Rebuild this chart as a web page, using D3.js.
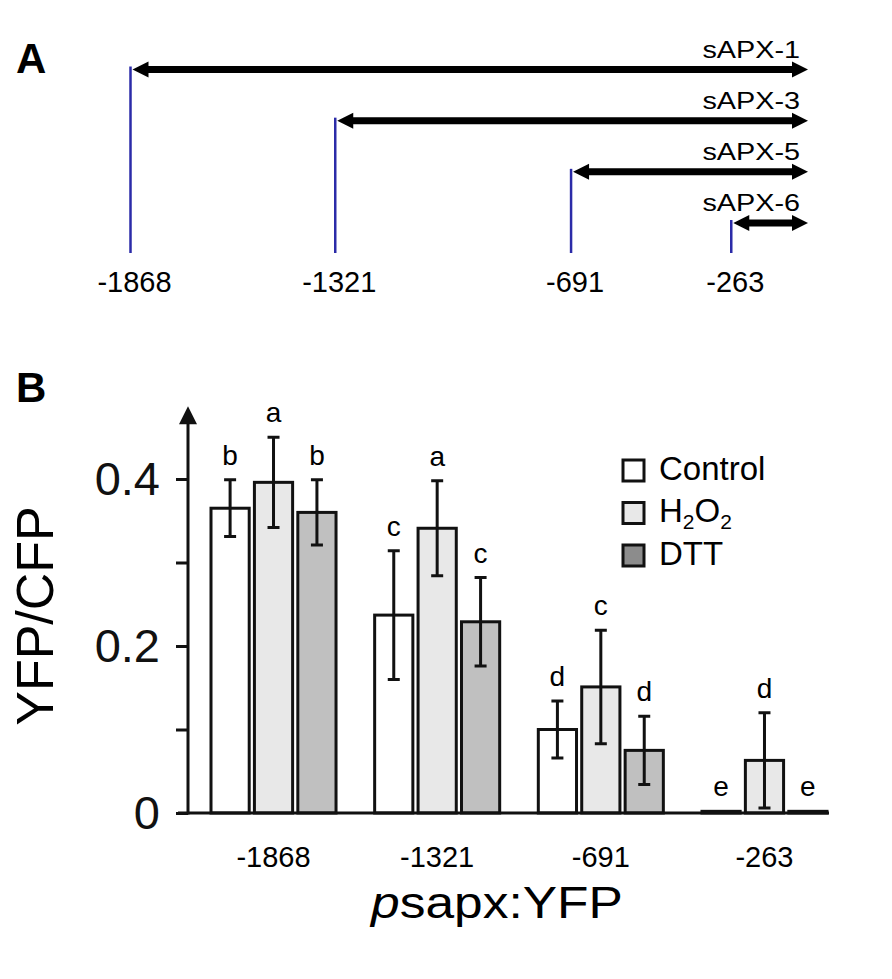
<!DOCTYPE html>
<html>
<head>
<meta charset="utf-8">
<script src="https://cdn.jsdelivr.net/npm/d3@7"></script>
<style>
  body { margin: 0; background: #fff; }
  svg { font-family: "Liberation Sans", Arial, sans-serif; }
</style>
</head>
<body>
<div id="chart"></div>
<script>
// panel A: promoter deletion constructs
const regionNames = ["sAPX-1", "sAPX-3", "sAPX-5", "sAPX-6"];
const regionStarts = [-1868, -1321, -691, -263];
const promoterEnd = -58;

// panel B: YFP/CFP ratios
const groups = ["-1868", "-1321", "-691", "-263"];
const treatments = ["Control", "H2O2", "DTT"];
const controlMean = [0.365, 0.237, 0.100, 0.002];
const controlErr = [0.034, 0.077, 0.034, 0];
const h2o2Mean = [0.396, 0.341, 0.151, 0.063];
const h2o2Err = [0.054, 0.057, 0.068, 0.057];
const dttMean = [0.360, 0.229, 0.075, 0.002];
const dttErr = [0.039, 0.053, 0.041, 0];
const controlLetters = ["b", "c", "d", "e"];
const h2o2Letters = ["a", "a", "c", "d"];
const dttLetters = ["b", "c", "d", "e"];
const yTicks = [0, 0.1, 0.2, 0.3, 0.4];
const yTickLabels = ["0", "", "0.2", "", "0.4"];

const width = 892, height = 979;
const fills = { Control: "#ffffff", H2O2: "#e8e8e8", DTT: "#c0c0c0" };
const legendFills = { Control: "#ffffff", H2O2: "#e8e8e8", DTT: "#8c8c8c" };

const svg = d3.select("#chart").append("svg")
  .attr("width", width)
  .attr("height", height);

svg.append("rect").attr("width", width).attr("height", height).attr("fill", "#fff");

// ---------- panel A ----------
svg.append("text").attr("x", 16).attr("y", 73)
  .attr("font-size", 42).attr("font-weight", "bold").text("A");

const xA = d3.scaleLinear().domain([-1868, promoterEnd]).range([130.5, 808]);
const rowY = d3.scalePoint().domain(regionNames).range([69.5, 223]);
const lineBottom = 253;

const regions = regionNames.map((n, i) => ({ name: n, start: regionStarts[i] }));

const gA = svg.append("g");

gA.selectAll(".mark")
  .data(regions)
  .join("line")
  .attr("x1", d => xA(d.start))
  .attr("x2", d => xA(d.start))
  .attr("y1", d => rowY(d.name) - 3)
  .attr("y2", lineBottom)
  .attr("stroke", "#2b2ba8")
  .attr("stroke-width", 2.5);

function doubleArrow(x1, x2, y) {
  const hl = 16, hh = 8, sh = 3.5;
  return `M${x1},${y} L${x1 + hl},${y - hh} L${x1 + hl},${y - sh} L${x2 - hl},${y - sh}` +
    ` L${x2 - hl},${y - hh} L${x2},${y} L${x2 - hl},${y + hh} L${x2 - hl},${y + sh}` +
    ` L${x1 + hl},${y + sh} L${x1 + hl},${y + hh} Z`;
}

gA.selectAll(".arrow")
  .data(regions)
  .join("path")
  .attr("d", d => doubleArrow(xA(d.start) + 2, xA(promoterEnd), rowY(d.name)))
  .attr("fill", "#000");

gA.selectAll(".rlabel")
  .data(regions)
  .join("text")
  .attr("transform", d => `translate(${xA(promoterEnd) - 8},${rowY(d.name) - 12}) scale(1.2,1)`)
  .attr("text-anchor", "end")
  .attr("font-size", 24)
  .text(d => d.name);

gA.selectAll(".tlabel")
  .data(regions)
  .join("text")
  .attr("x", d => xA(d.start) + 4)
  .attr("y", 292)
  .attr("text-anchor", "middle")
  .attr("font-size", 29)
  .text(d => d.start);

// ---------- panel B ----------
svg.append("text").attr("x", 16).attr("y", 402)
  .attr("font-size", 42).attr("font-weight", "bold").text("B");

const x0 = d3.scaleBand().domain(groups).range([211, 827]).paddingInner(0.236).paddingOuter(0);
const x1 = d3.scaleBand().domain(treatments).range([0, x0.bandwidth()]).paddingInner(0.12);
const y = d3.scaleLinear().domain([0, 0.4]).range([813, 479]);

const series = {
  Control: { mean: controlMean, err: controlErr, letters: controlLetters },
  H2O2: { mean: h2o2Mean, err: h2o2Err, letters: h2o2Letters },
  DTT: { mean: dttMean, err: dttErr, letters: dttLetters }
};

const barData = [];
groups.forEach((g, i) => {
  treatments.forEach(t => {
    barData.push({ group: g, treat: t, v: series[t].mean[i], e: series[t].err[i], letter: series[t].letters[i] });
  });
});

const gB = svg.append("g");

gB.selectAll(".bar")
  .data(barData)
  .join("rect")
  .attr("x", d => x0(d.group) + x1(d.treat))
  .attr("y", d => y(d.v))
  .attr("width", x1.bandwidth())
  .attr("height", d => y(0) - y(d.v))
  .attr("fill", d => fills[d.treat])
  .attr("stroke", "#111")
  .attr("stroke-width", 3);

const errData = barData.filter(d => d.e > 0);
const cx = d => x0(d.group) + x1(d.treat) + x1.bandwidth() / 2;

gB.selectAll(".err")
  .data(errData)
  .join("path")
  .attr("d", d => {
    const c = cx(d), t = y(d.v + d.e), b = y(d.v - d.e);
    return `M${c - 6},${t} H${c + 6} M${c},${t} V${b} M${c - 6},${b} H${c + 6}`;
  })
  .attr("fill", "none")
  .attr("stroke", "#111")
  .attr("stroke-width", 3);

gB.selectAll(".letter")
  .data(barData)
  .join("text")
  .attr("x", cx)
  .attr("y", d => y(d.v + d.e) - 15)
  .attr("text-anchor", "middle")
  .attr("font-size", 28)
  .text(d => d.letter);

// y axis
const yAxis = d3.axisLeft(y)
  .tickValues(yTicks)
  .tickSize(12)
  .tickPadding(16)
  .tickFormat((d, i) => yTickLabels[i]);

const axG = svg.append("g")
  .attr("transform", "translate(188,0)")
  .call(yAxis);
axG.select(".domain").remove();
axG.selectAll(".tick line").attr("stroke", "#111").attr("stroke-width", 3);
axG.selectAll(".tick text")
  .attr("font-size", 47)
  .attr("font-family", "Liberation Sans, Arial, sans-serif")
  .attr("fill", "#111");

const yTop = y(0.487);
svg.append("line")
  .attr("x1", 188).attr("x2", 188)
  .attr("y1", y(0) + 1.5).attr("y2", yTop + 14)
  .attr("stroke", "#111").attr("stroke-width", 3);
svg.append("path")
  .attr("d", `M188,${yTop} L197,${yTop + 18} L179,${yTop + 18} Z`)
  .attr("fill", "#111");

// baseline
svg.append("line")
  .attr("x1", 178).attr("x2", x0.range()[1] + 2)
  .attr("y1", y(0)).attr("y2", y(0))
  .attr("stroke", "#111").attr("stroke-width", 3);

// x labels
svg.selectAll(".xlabel")
  .data(groups)
  .join("text")
  .attr("x", d => x0(d) + x0.bandwidth() / 2)
  .attr("y", 867)
  .attr("text-anchor", "middle")
  .attr("font-size", 29)
  .text(d => d);

// axis titles
svg.append("text")
  .attr("transform", "translate(53,616) rotate(-90)")
  .attr("text-anchor", "middle")
  .attr("font-size", 52)
  .text("YFP/CFP");

const title = svg.append("text")
  .attr("transform", "translate(497,918) scale(1.17,1)")
  .attr("text-anchor", "middle")
  .attr("font-size", 44);
title.append("tspan").attr("font-style", "italic").text("p");
title.append("tspan").text("sapx:YFP");

// legend
const legendLabels = [["Control"], ["H", "2", "O", "2"], ["DTT"]];
const legY = d3.scalePoint().domain(treatments).range([470.5, 555.5]);

const leg = svg.append("g");
leg.selectAll("rect")
  .data(treatments)
  .join("rect")
  .attr("x", 623)
  .attr("y", d => legY(d) - 10.5)
  .attr("width", 21)
  .attr("height", 21)
  .attr("fill", d => legendFills[d])
  .attr("stroke", "#111")
  .attr("stroke-width", 3);

leg.selectAll("text")
  .data(treatments)
  .join("text")
  .attr("x", 659)
  .attr("y", d => legY(d) + 9)
  .attr("font-size", 33)
  .each(function (d, i) {
    const t = d3.select(this);
    legendLabels[i].forEach(part => {
      if (part === "2") {
        t.append("tspan").attr("font-size", 21).attr("dy", 7).text(part);
      } else {
        const ts = t.append("tspan").text(part);
        if (t.selectAll("tspan").size() > 1) ts.attr("dy", -7);
      }
    });
  });
</script>
</body>
</html>
